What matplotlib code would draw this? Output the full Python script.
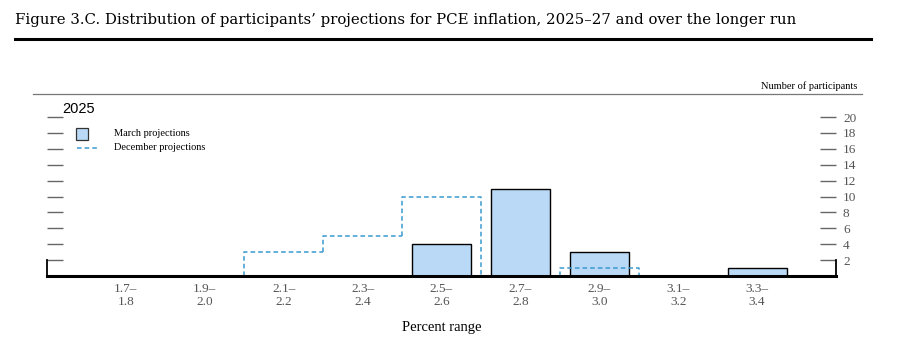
import matplotlib
matplotlib.use("Agg")
import matplotlib.pyplot as plt
from matplotlib.lines import Line2D
from matplotlib.patches import Rectangle
import numpy as np

categories = ["1.5–\n1.6", "1.7–\n1.8", "1.9–\n2.0", "2.1–\n2.2", "2.3–\n2.4", "2.5–\n2.6",
              "2.7–\n2.8", "2.9–\n3.0", "3.1–\n3.2", "3.3–\n3.4"]
march = [0, 0, 0, 0, 0, 4, 11, 3, 0, 1]
december = [0, 0, 0, 3, 5, 10, 0, 1, 0, 0]
yticks = [2, 4, 6, 8, 10, 12, 14, 16, 18, 20]

W, H = 901, 344
fig = plt.figure(figsize=(W / 100, H / 100), dpi=100)
serif = ["Liberation Serif", "DejaVu Serif"]

# axes: category index 0 at left edge (hidden 1.5-1.6), labels from index 1
ax = fig.add_axes([47 / W, (H - 276) / H, (836 - 47) / W, (276 - 117) / H])
x = np.arange(len(categories))
ax.set_xlim(0, 10)
ax.set_ylim(0, 20)

bar_color = "#b9d9f6"
ax.bar(x, march, width=0.75, color=bar_color, edgecolor="black", linewidth=1.0, zorder=3)

# December step outline
dec = np.array(december, dtype=float)
for i, v in enumerate(dec):
    if v <= 0:
        continue
    left_v = dec[i - 1] if i > 0 else 0
    right_v = dec[i + 1] if i + 1 < len(dec) else 0
    xs = [i - 0.5, i - 0.5, i + 0.5, i + 0.5]
    ys = [min(left_v, v) if left_v > 0 else 0, v, v, min(right_v, v) if right_v > 0 else 0]
    ax.plot(xs, ys, linestyle=(0, (3, 2)), color="#3a9ad0", linewidth=1.1, zorder=4,
            clip_on=False)

ax.spines["top"].set_visible(False)
ax.spines["bottom"].set_linewidth(2.2)
ax.spines["bottom"].set_zorder(5)
for s in ["left", "right"]:
    ax.spines[s].set_bounds(0, 2)
    ax.spines[s].set_linewidth(1.3)

ax.set_xticks(x[1:])
ax.set_xticklabels(categories[1:], fontsize=9.5, color="#555555", family=serif,
                   linespacing=1.15)
ax.tick_params(axis="x", length=0, pad=5)

ax.set_yticks(yticks)
ax.tick_params(axis="y", which="both", direction="in", length=11.5, width=1.0,
               color="#666666", left=True, right=True, labelleft=False, labelright=True,
               labelsize=9.5, labelcolor="#555555", pad=5)
for lab in ax.get_yticklabels():
    lab.set_family(serif)
    lab.set_horizontalalignment("left")

ax.set_xlabel("Percent range", fontsize=10.5, family=serif, labelpad=9)
ax.set_facecolor("none")

# title and rules
fig.text(15 / W, 1 - 20 / H, "Figure 3.C. Distribution of participants’ projections for PCE inflation, 2025–27 and over the longer run",
         fontsize=10.7, family=["DejaVu Serif"], va="center", ha="left")
fig.add_artist(Line2D([15 / W, 871 / W], [1 - 39 / H, 1 - 39 / H], color="black", linewidth=2.2))
fig.add_artist(Line2D([33 / W, 862 / W], [1 - 94 / H, 1 - 94 / H], color="#777777", linewidth=0.9))
fig.text(857 / W, 1 - 86 / H, "Number of participants", fontsize=7.5, family=serif,
         ha="right", va="center")
fig.text(62 / W, 1 - 109 / H, "2025", fontsize=10.5, family=["Liberation Sans", "DejaVu Sans"],
         ha="left", va="center")

# legend
fig.add_artist(Rectangle((76 / W, 1 - 140 / H), 12 / W, 12 / H, facecolor=bar_color,
                         edgecolor="#333333", linewidth=0.9))
fig.text(114 / W, 1 - 134 / H, "March projections", fontsize=7.5, family=serif, va="center")
fig.add_artist(Line2D([77 / W, 97 / W], [1 - 148 / H, 1 - 148 / H], color="#3a9ad0",
                      linewidth=1.1, linestyle=(0, (3, 2))))
fig.text(114 / W, 1 - 147 / H, "December projections", fontsize=7.5, family=serif, va="center")

fig.savefig("out.png", dpi=100)
